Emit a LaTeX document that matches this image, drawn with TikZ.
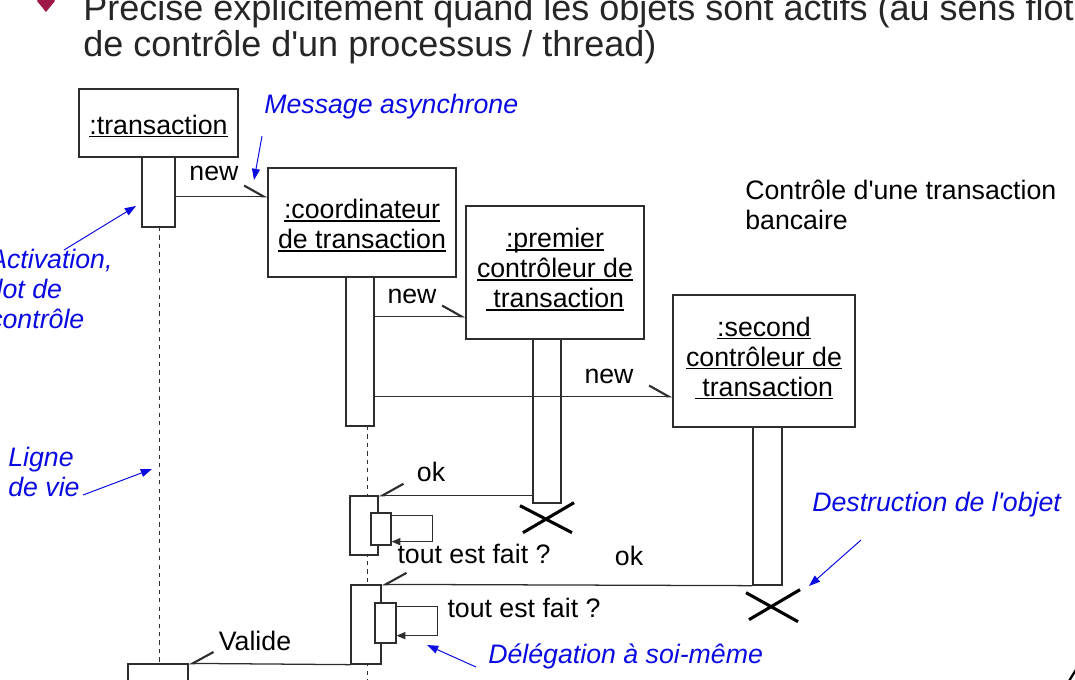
\documentclass[tikz,border=0pt]{standalone}
\usepackage{fontspec}
\setmainfont{Liberation Sans}
\usetikzlibrary{arrows.meta, calc, positioning}
\definecolor{cLine}{RGB}{45,45,45}
\definecolor{cNote}{RGB}{10,10,225}
\definecolor{cBullet}{RGB}{158,25,72}
\newcommand{\dgfont}{\fontsize{19}{21.3}\selectfont}
\newcommand{\ttlfont}{\fontsize{25.6}{25.5}\selectfont}
\newcommand{\ulbox}[1]{\setbox0=\hbox{#1}\rlap{\rule[-2.2pt]{\wd0}{0.9pt}}\box0}
\newcommand{\topstrut}{\rule{0pt}{18pt}}
\newcommand{\botstrut}{\rule[-6.6pt]{0pt}{0pt}}
\tikzset{
	objbox/.style   ={rectangle, draw=cLine, line width=0.9pt, fill=white, align=center, inner sep=0pt, font=\dgfont},
	actbar/.style   ={rectangle, draw=cLine, line width=0.9pt, fill=white, inner sep=0pt},
	lifeline/.style ={draw=cLine, line width=0.7pt, dash pattern=on 3pt off 3pt},
	asyncmsg/.style ={draw=cLine, line width=0.9pt, -{Straight Barb[harpoon, length=0.48cm, width=0.54cm, line width=1.5pt]}},
	asyncback/.style={draw=cLine, line width=0.9pt, -{Straight Barb[harpoon, swap, length=0.52cm, width=0.58cm, line width=1.5pt]}},
	selfcall/.style ={draw=cLine, line width=0.9pt, -{Triangle[length=0.22cm, width=0.18cm]}},
	destroy/.style  ={draw=black, line width=2.2pt},
	msglabel/.style ={font=\dgfont, anchor=base, inner sep=0pt},
	% annotations in blue
	notetext/.style ={font=\dgfont\itshape, text=cNote, inner sep=0pt, align=left},
	notearrow/.style={draw=cNote, line width=0.7pt, -{Triangle[length=0.28cm, width=0.2cm]}},
}
\begin{document}
\begin{tikzpicture}[x=0.025cm, y=-0.025cm]
	\useasboundingbox (0,0) rectangle (1075,679);
	\clip (0,0) rectangle (1075,679);
	% slide title
	\fill[cBullet] (46,-10) -- (55,1) -- (46,12) -- (37,1) -- cycle;
	\node[font=\ttlfont, text=black!85, anchor=base west, inner sep=0pt] (ttlA) at (83,20) {Précise explicitement quand les objets sont actifs (au sens flot};
	\node[font=\ttlfont, text=black!85, anchor=base west, inner sep=0pt] (ttlB) at (83,56) {de contrôle d\textquotesingle un processus / thread)};
	% lifelines
	\draw[lifeline] (159,227) -- (159,664);
	\draw[lifeline] (367,426) -- (367,690);
	% objects
	\node[objbox, minimum width=3.975cm, minimum height=1.7cm] (trans) at (158.5,123) {\topstrut\ulbox{:transaction}};
	\node[objbox, minimum width=4.7cm, minimum height=2.725cm] (coordobj) at (362,222.5) {\topstrut\ulbox{:coordinateur}\\\ulbox{de transaction}};
	\node[objbox, minimum width=4.45cm, minimum height=3.325cm] (premier) at (555,272.5) {\ulbox{:premier}\\\ulbox{contrôleur de}\\\ulbox{\ transaction}\botstrut};
	\node[objbox, minimum width=4.55cm, minimum height=3.3cm] (second) at (764,361) {\ulbox{:second}\\\ulbox{contrôleur de}\\\ulbox{\ transaction}\botstrut};
	% activations
	\node[actbar, minimum width=0.825cm, minimum height=1.75cm] (transact) at (158.5,192) {};
	\node[actbar, minimum width=1.5cm, minimum height=0.9cm] (transactB) at (158,682) {};
	\node[actbar, minimum width=0.7cm, minimum height=3.725cm] (coordact) at (360,351.5) {};
	\node[actbar, minimum width=0.7cm, minimum height=1.475cm] (coordactB) at (364,525.5) {};
	\node[actbar, minimum width=0.5cm, minimum height=0.8cm] (coordactBn) at (381,529) {};
	\node[actbar, minimum width=0.75cm, minimum height=1.975cm] (coordactC) at (366,624.5) {};
	\node[actbar, minimum width=0.525cm, minimum height=1.0cm] (coordactCn) at (385.5,623) {};
	\node[actbar, minimum width=0.7cm, minimum height=4.1cm] (premact) at (547,421) {};
	\node[actbar, minimum width=0.725cm, minimum height=3.95cm] (secact) at (767.5,506) {};
	% messages
	\coordinate (newA) at ($(transact.north east)+(0,40)$);
	\coordinate (newB) at ($(coordact.north east)+(0,40)$);
	\coordinate (newC) at ($(coordact.north east)+(0,120)$);
	\draw[asyncmsg] (newA) -- (coordobj.west |- newA);
	\draw[asyncmsg] (newB) -- (premier.west |- newB);
	\draw[asyncmsg] (newC) -- (second.west |- newC);
	\draw[asyncback] (premact.west |- coordactB.north east) -- (coordactB.north east);
	\draw[asyncback] (secact.south west) -- (coordactC.north east);
	\draw[asyncback] (coordactC.south west) -- (transactB.north east);
	\draw[selfcall] ($(coordactBn.north east)+(0,3)$) -- ++(41,0) |- ($(coordactBn.south east)+(0,-4)$);
	\draw[selfcall] ($(coordactCn.north east)+(0,4)$) -- ++(41,0) |- ($(coordactCn.south east)+(0,-8)$);
	% destructions
	\draw[destroy] ($(premact.south)+(-27,2)$) -- ++(52,27) ($(premact.south)+(-24,29)$) -- ++(51,-30);
	\draw[destroy] ($(secact.south)+(-21.5,7)$) -- ++(52,29) ($(secact.south)+(-18.5,34)$) -- ++(51,-30);
	% message labels
	\node[msglabel] (lblNewA) at (214,180) {new};
	\node[msglabel] (lblNewB) at (412,303) {new};
	\node[msglabel] (lblNewC) at (609,383) {new};
	\node[msglabel] (lblOkA) at (431,481) {ok};
	\node[msglabel] (lblOkB) at (629,565) {ok};
	\node[msglabel] (lblSelfA) at (474,563) {tout est fait ?};
	\node[msglabel] (lblSelfB) at (524,617) {tout est fait ?};
	\node[msglabel] (lblValide) at (255,650) {Valide};
	\node[font=\dgfont, align=left, anchor=north west, inner sep=0pt] (caption) at (745,180) {Contrôle d\textquotesingle une transaction\\bancaire};
	% annotations
	\node[notetext, anchor=base west] (noteMsg) at (264,113) {Message asynchrone};
	\node[notetext, anchor=north west] (noteAct) at (-11,249) {Activation,\\flot de\\contrôle};
	\node[notetext, anchor=north west] (noteLife) at (8,447) {Ligne\\de vie};
	\node[notetext, anchor=base west] (noteDestr) at (812,511) {Destruction de l\textquotesingle objet};
	\node[notetext, anchor=base west] (noteSelf) at (488,663) {Délégation à soi-même};
	\coordinate (msgFrom) at (262,136);   \coordinate (msgTo) at (254,180);
	\coordinate (actFrom) at (64,250);    \coordinate (actTo) at (136,206);
	\coordinate (lifeFrom) at (83,495);   \coordinate (lifeTo) at (152,469);
	\coordinate (destrFrom) at (861,540); \coordinate (destrTo) at (809,586);
	\coordinate (selfFrom) at (476,667);  \coordinate (selfTo) at (427,645);
	\draw[notearrow] (msgFrom) -- (msgTo);
	\draw[notearrow] (actFrom) -- (actTo);
	\draw[notearrow] (lifeFrom) -- (lifeTo);
	\draw[notearrow] (destrFrom) -- (destrTo);
	\draw[notearrow] (selfFrom) -- (selfTo);
	\draw[black, line width=1.6pt] (1069,681) -- (1077,668);
\end{tikzpicture}
\end{document}
